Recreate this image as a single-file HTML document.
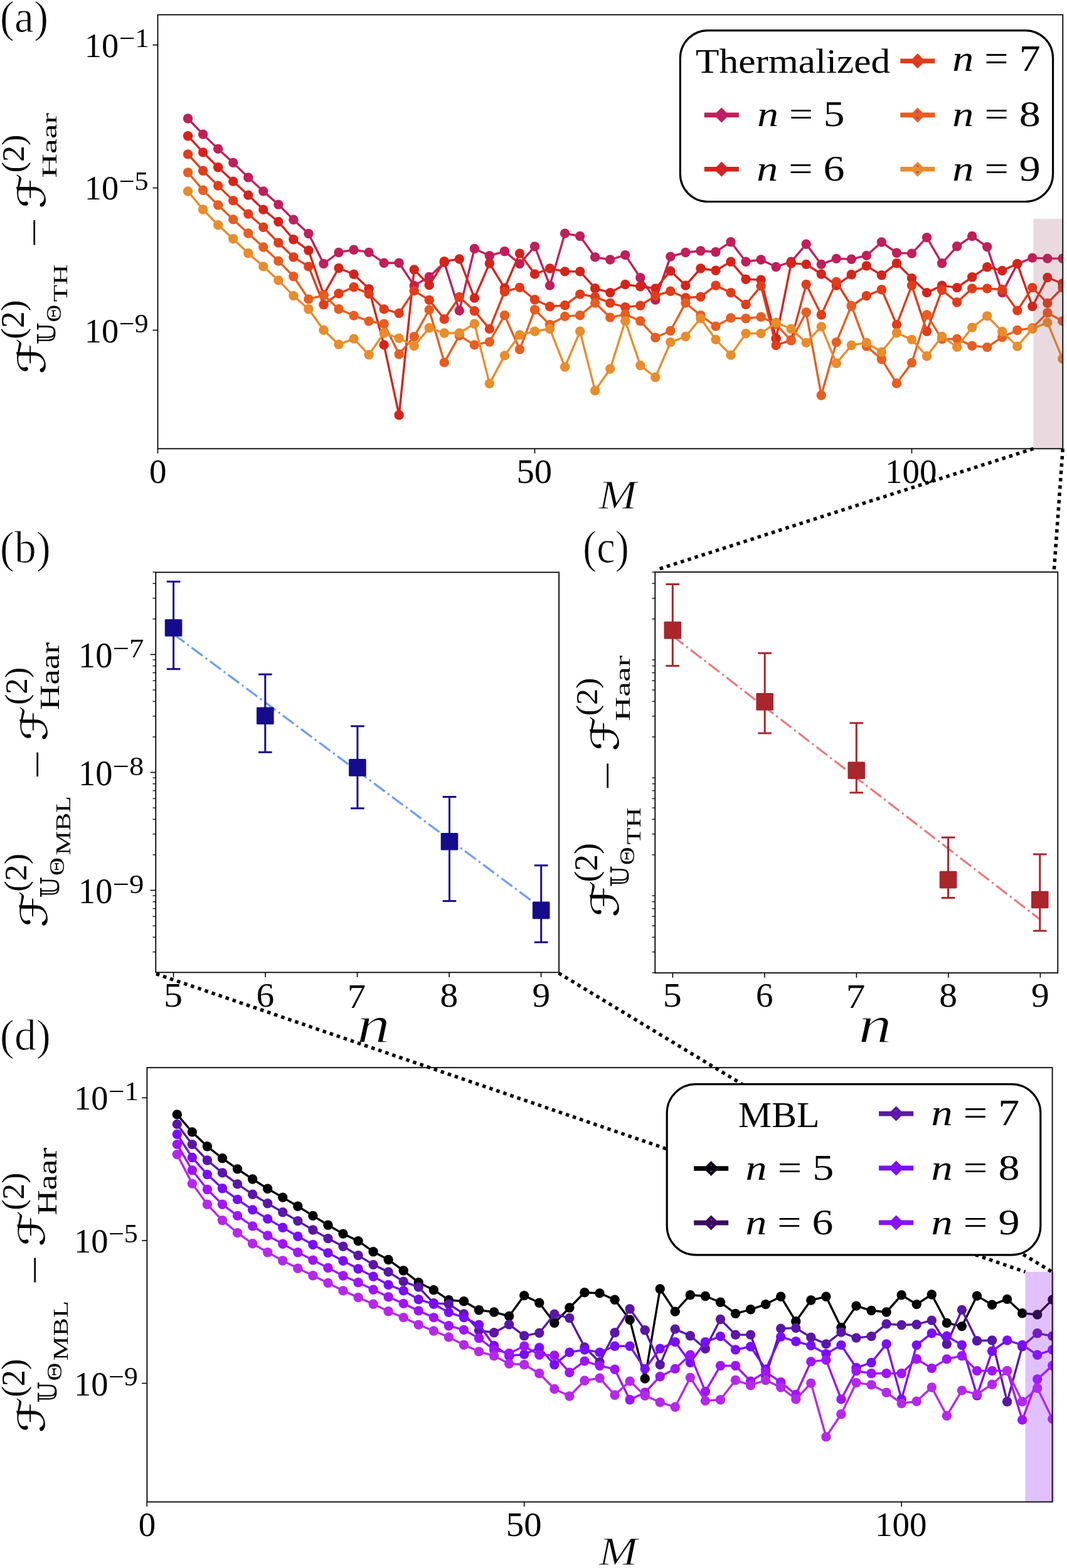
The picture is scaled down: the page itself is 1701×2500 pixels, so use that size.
<!DOCTYPE html>
<html><head><meta charset="utf-8"><title>figure</title>
<style>html,body{margin:0;padding:0;background:#fff;}svg{display:block;}</style>
</head><body>
<svg width="1701" height="2500" viewBox="0 0 1701 2500">
<rect width="1701" height="2500" fill="#fff"/>
<defs>
<clipPath id="ca"><rect x="251.5" y="23.5" width="1442.8" height="691.9"/></clipPath>
<clipPath id="cd"><rect x="234.4" y="1702.2" width="1443.2" height="692.4"/></clipPath>
</defs>
<g clip-path="url(#ca)">
<path d="M299.58 189 L323.62 214.1 L347.66 237.4 L371.7 259.4 L395.74 282.9 L419.78 304.9 L443.82 326.1 L467.86 350.3 L491.9 372.5 L515.94 420.5 L539.98 402.5 L564.02 398.2 L588.06 402.4 L612.1 419.2 L636.14 419.2 L660.18 455.4 L684.22 441.4 L708.26 418.4 L732.3 495.2 L756.34 396.5 L780.38 407.7 L804.42 400.8 L828.46 420.6 L852.5 393 L876.54 455.1 L900.58 372.1 L924.62 376.5 L948.66 409.9 L972.7 414 L996.74 406.6 L1020.78 442.8 L1044.82 478.1 L1068.86 409.1 L1092.9 402.5 L1116.94 400 L1140.98 401.7 L1165.02 385.7 L1189.06 417.3 L1213.1 414 L1237.14 425.5 L1261.18 417.3 L1285.22 389.3 L1309.26 421.4 L1333.3 412.4 L1357.34 413.2 L1381.38 407.4 L1405.42 386 L1429.46 403.3 L1453.5 404.1 L1477.54 378.6 L1501.58 419.8 L1525.62 392.8 L1549.66 376.5 L1573.7 393.6 L1597.74 466.6 L1621.78 420.6 L1645.82 411.1 L1669.86 412.1 L1693.9 412.1" fill="none" stroke="#c11e5a" stroke-width="3.4" stroke-linejoin="round"/>
<g fill="#c11e5a"><circle cx="299.58" cy="189" r="7.7"/><circle cx="323.62" cy="214.1" r="7.7"/><circle cx="347.66" cy="237.4" r="7.7"/><circle cx="371.7" cy="259.4" r="7.7"/><circle cx="395.74" cy="282.9" r="7.7"/><circle cx="419.78" cy="304.9" r="7.7"/><circle cx="443.82" cy="326.1" r="7.7"/><circle cx="467.86" cy="350.3" r="7.7"/><circle cx="491.9" cy="372.5" r="7.7"/><circle cx="515.94" cy="420.5" r="7.7"/><circle cx="539.98" cy="402.5" r="7.7"/><circle cx="564.02" cy="398.2" r="7.7"/><circle cx="588.06" cy="402.4" r="7.7"/><circle cx="612.1" cy="419.2" r="7.7"/><circle cx="636.14" cy="419.2" r="7.7"/><circle cx="660.18" cy="455.4" r="7.7"/><circle cx="684.22" cy="441.4" r="7.7"/><circle cx="708.26" cy="418.4" r="7.7"/><circle cx="732.3" cy="495.2" r="7.7"/><circle cx="756.34" cy="396.5" r="7.7"/><circle cx="780.38" cy="407.7" r="7.7"/><circle cx="804.42" cy="400.8" r="7.7"/><circle cx="828.46" cy="420.6" r="7.7"/><circle cx="852.5" cy="393" r="7.7"/><circle cx="876.54" cy="455.1" r="7.7"/><circle cx="900.58" cy="372.1" r="7.7"/><circle cx="924.62" cy="376.5" r="7.7"/><circle cx="948.66" cy="409.9" r="7.7"/><circle cx="972.7" cy="414" r="7.7"/><circle cx="996.74" cy="406.6" r="7.7"/><circle cx="1020.78" cy="442.8" r="7.7"/><circle cx="1044.82" cy="478.1" r="7.7"/><circle cx="1068.86" cy="409.1" r="7.7"/><circle cx="1092.9" cy="402.5" r="7.7"/><circle cx="1116.94" cy="400" r="7.7"/><circle cx="1140.98" cy="401.7" r="7.7"/><circle cx="1165.02" cy="385.7" r="7.7"/><circle cx="1189.06" cy="417.3" r="7.7"/><circle cx="1213.1" cy="414" r="7.7"/><circle cx="1237.14" cy="425.5" r="7.7"/><circle cx="1261.18" cy="417.3" r="7.7"/><circle cx="1285.22" cy="389.3" r="7.7"/><circle cx="1309.26" cy="421.4" r="7.7"/><circle cx="1333.3" cy="412.4" r="7.7"/><circle cx="1357.34" cy="413.2" r="7.7"/><circle cx="1381.38" cy="407.4" r="7.7"/><circle cx="1405.42" cy="386" r="7.7"/><circle cx="1429.46" cy="403.3" r="7.7"/><circle cx="1453.5" cy="404.1" r="7.7"/><circle cx="1477.54" cy="378.6" r="7.7"/><circle cx="1501.58" cy="419.8" r="7.7"/><circle cx="1525.62" cy="392.8" r="7.7"/><circle cx="1549.66" cy="376.5" r="7.7"/><circle cx="1573.7" cy="393.6" r="7.7"/><circle cx="1597.74" cy="466.6" r="7.7"/><circle cx="1621.78" cy="420.6" r="7.7"/><circle cx="1645.82" cy="411.1" r="7.7"/><circle cx="1669.86" cy="412.1" r="7.7"/><circle cx="1693.9" cy="412.1" r="7.7"/></g>
<path d="M299.58 216.7 L323.62 242.9 L347.66 266.7 L371.7 289.1 L395.74 311.1 L419.78 334.1 L443.82 353.5 L467.86 381.7 L491.9 399.3 L515.94 469.9 L539.98 427.5 L564.02 437.3 L588.06 460.6 L612.1 549.9 L636.14 661.8 L660.18 429.9 L684.22 454.6 L708.26 416.7 L732.3 413 L756.34 475.1 L780.38 420 L804.42 459.2 L828.46 404.1 L852.5 437 L876.54 428 L900.58 432.9 L924.62 432.9 L948.66 459.7 L972.7 466.6 L996.74 453.5 L1020.78 456.8 L1044.82 460 L1068.86 432.1 L1092.9 455.1 L1116.94 428 L1140.98 431.3 L1165.02 417.3 L1189.06 445.2 L1213.1 446.1 L1237.14 539.8 L1261.18 419.8 L1285.22 421.4 L1309.26 437 L1333.3 455.1 L1357.34 437.8 L1381.38 423.9 L1405.42 438.7 L1429.46 419.8 L1453.5 443.6 L1477.54 466.6 L1501.58 455.1 L1525.62 458.6 L1549.66 441.8 L1573.7 425.7 L1597.74 431.5 L1621.78 420.6 L1645.82 488.5 L1669.86 442.5 L1693.9 452" fill="none" stroke="#d6231a" stroke-width="3.4" stroke-linejoin="round"/>
<g fill="#d6231a"><circle cx="299.58" cy="216.7" r="7.7"/><circle cx="323.62" cy="242.9" r="7.7"/><circle cx="347.66" cy="266.7" r="7.7"/><circle cx="371.7" cy="289.1" r="7.7"/><circle cx="395.74" cy="311.1" r="7.7"/><circle cx="419.78" cy="334.1" r="7.7"/><circle cx="443.82" cy="353.5" r="7.7"/><circle cx="467.86" cy="381.7" r="7.7"/><circle cx="491.9" cy="399.3" r="7.7"/><circle cx="515.94" cy="469.9" r="7.7"/><circle cx="539.98" cy="427.5" r="7.7"/><circle cx="564.02" cy="437.3" r="7.7"/><circle cx="588.06" cy="460.6" r="7.7"/><circle cx="612.1" cy="549.9" r="7.7"/><circle cx="636.14" cy="661.8" r="7.7"/><circle cx="660.18" cy="429.9" r="7.7"/><circle cx="684.22" cy="454.6" r="7.7"/><circle cx="708.26" cy="416.7" r="7.7"/><circle cx="732.3" cy="413" r="7.7"/><circle cx="756.34" cy="475.1" r="7.7"/><circle cx="780.38" cy="420" r="7.7"/><circle cx="804.42" cy="459.2" r="7.7"/><circle cx="828.46" cy="404.1" r="7.7"/><circle cx="852.5" cy="437" r="7.7"/><circle cx="876.54" cy="428" r="7.7"/><circle cx="900.58" cy="432.9" r="7.7"/><circle cx="924.62" cy="432.9" r="7.7"/><circle cx="948.66" cy="459.7" r="7.7"/><circle cx="972.7" cy="466.6" r="7.7"/><circle cx="996.74" cy="453.5" r="7.7"/><circle cx="1020.78" cy="456.8" r="7.7"/><circle cx="1044.82" cy="460" r="7.7"/><circle cx="1068.86" cy="432.1" r="7.7"/><circle cx="1092.9" cy="455.1" r="7.7"/><circle cx="1116.94" cy="428" r="7.7"/><circle cx="1140.98" cy="431.3" r="7.7"/><circle cx="1165.02" cy="417.3" r="7.7"/><circle cx="1189.06" cy="445.2" r="7.7"/><circle cx="1213.1" cy="446.1" r="7.7"/><circle cx="1237.14" cy="539.8" r="7.7"/><circle cx="1261.18" cy="419.8" r="7.7"/><circle cx="1285.22" cy="421.4" r="7.7"/><circle cx="1309.26" cy="437" r="7.7"/><circle cx="1333.3" cy="455.1" r="7.7"/><circle cx="1357.34" cy="437.8" r="7.7"/><circle cx="1381.38" cy="423.9" r="7.7"/><circle cx="1405.42" cy="438.7" r="7.7"/><circle cx="1429.46" cy="419.8" r="7.7"/><circle cx="1453.5" cy="443.6" r="7.7"/><circle cx="1477.54" cy="466.6" r="7.7"/><circle cx="1501.58" cy="455.1" r="7.7"/><circle cx="1525.62" cy="458.6" r="7.7"/><circle cx="1549.66" cy="441.8" r="7.7"/><circle cx="1573.7" cy="425.7" r="7.7"/><circle cx="1597.74" cy="431.5" r="7.7"/><circle cx="1621.78" cy="420.6" r="7.7"/><circle cx="1645.82" cy="488.5" r="7.7"/><circle cx="1669.86" cy="442.5" r="7.7"/><circle cx="1693.9" cy="452" r="7.7"/></g>
<path d="M299.58 245.9 L323.62 272.3 L347.66 296.1 L371.7 319.9 L395.74 341.1 L419.78 362.3 L443.82 387 L467.86 409.9 L491.9 424.9 L515.94 485.7 L539.98 468 L564.02 457.8 L588.06 468.5 L612.1 492.9 L636.14 499.5 L660.18 463.6 L684.22 478.4 L708.26 508.8 L732.3 473.5 L756.34 495.7 L780.38 524.4 L804.42 465 L828.46 458.4 L852.5 477.8 L876.54 488.8 L900.58 486.7 L924.62 469.1 L948.66 473.2 L972.7 483.1 L996.74 489.6 L1020.78 487.2 L1044.82 471.6 L1068.86 464.2 L1092.9 474.8 L1116.94 473.2 L1140.98 455.1 L1165.02 466.6 L1189.06 485.5 L1213.1 455.9 L1237.14 550.5 L1261.18 542.3 L1285.22 453.5 L1309.26 502 L1333.3 449.4 L1357.34 488 L1381.38 471.6 L1405.42 461.7 L1429.46 517.6 L1453.5 455.1 L1477.54 528.3 L1501.58 462.5 L1525.62 482 L1549.66 460 L1573.7 460 L1597.74 461.5 L1621.78 495.1 L1645.82 458.6 L1669.86 483.4 L1693.9 458.6" fill="none" stroke="#e23c19" stroke-width="3.4" stroke-linejoin="round"/>
<g fill="#e23c19"><circle cx="299.58" cy="245.9" r="7.7"/><circle cx="323.62" cy="272.3" r="7.7"/><circle cx="347.66" cy="296.1" r="7.7"/><circle cx="371.7" cy="319.9" r="7.7"/><circle cx="395.74" cy="341.1" r="7.7"/><circle cx="419.78" cy="362.3" r="7.7"/><circle cx="443.82" cy="387" r="7.7"/><circle cx="467.86" cy="409.9" r="7.7"/><circle cx="491.9" cy="424.9" r="7.7"/><circle cx="515.94" cy="485.7" r="7.7"/><circle cx="539.98" cy="468" r="7.7"/><circle cx="564.02" cy="457.8" r="7.7"/><circle cx="588.06" cy="468.5" r="7.7"/><circle cx="612.1" cy="492.9" r="7.7"/><circle cx="636.14" cy="499.5" r="7.7"/><circle cx="660.18" cy="463.6" r="7.7"/><circle cx="684.22" cy="478.4" r="7.7"/><circle cx="708.26" cy="508.8" r="7.7"/><circle cx="732.3" cy="473.5" r="7.7"/><circle cx="756.34" cy="495.7" r="7.7"/><circle cx="780.38" cy="524.4" r="7.7"/><circle cx="804.42" cy="465" r="7.7"/><circle cx="828.46" cy="458.4" r="7.7"/><circle cx="852.5" cy="477.8" r="7.7"/><circle cx="876.54" cy="488.8" r="7.7"/><circle cx="900.58" cy="486.7" r="7.7"/><circle cx="924.62" cy="469.1" r="7.7"/><circle cx="948.66" cy="473.2" r="7.7"/><circle cx="972.7" cy="483.1" r="7.7"/><circle cx="996.74" cy="489.6" r="7.7"/><circle cx="1020.78" cy="487.2" r="7.7"/><circle cx="1044.82" cy="471.6" r="7.7"/><circle cx="1068.86" cy="464.2" r="7.7"/><circle cx="1092.9" cy="474.8" r="7.7"/><circle cx="1116.94" cy="473.2" r="7.7"/><circle cx="1140.98" cy="455.1" r="7.7"/><circle cx="1165.02" cy="466.6" r="7.7"/><circle cx="1189.06" cy="485.5" r="7.7"/><circle cx="1213.1" cy="455.9" r="7.7"/><circle cx="1237.14" cy="550.5" r="7.7"/><circle cx="1261.18" cy="542.3" r="7.7"/><circle cx="1285.22" cy="453.5" r="7.7"/><circle cx="1309.26" cy="502" r="7.7"/><circle cx="1333.3" cy="449.4" r="7.7"/><circle cx="1357.34" cy="488" r="7.7"/><circle cx="1381.38" cy="471.6" r="7.7"/><circle cx="1405.42" cy="461.7" r="7.7"/><circle cx="1429.46" cy="517.6" r="7.7"/><circle cx="1453.5" cy="455.1" r="7.7"/><circle cx="1477.54" cy="528.3" r="7.7"/><circle cx="1501.58" cy="462.5" r="7.7"/><circle cx="1525.62" cy="482" r="7.7"/><circle cx="1549.66" cy="460" r="7.7"/><circle cx="1573.7" cy="460" r="7.7"/><circle cx="1597.74" cy="461.5" r="7.7"/><circle cx="1621.78" cy="495.1" r="7.7"/><circle cx="1645.82" cy="458.6" r="7.7"/><circle cx="1669.86" cy="483.4" r="7.7"/><circle cx="1693.9" cy="458.6" r="7.7"/></g>
<path d="M299.58 275 L323.62 303.2 L347.66 327 L371.7 349.9 L395.74 372 L419.78 394 L443.82 416.1 L467.86 440.8 L491.9 476.9 L515.94 470.8 L539.98 492.8 L564.02 503.1 L588.06 512.1 L612.1 516.2 L636.14 564.7 L660.18 536.8 L684.22 494 L708.26 577.9 L732.3 535.1 L756.34 549.9 L780.38 545 L804.42 502.8 L828.46 557.1 L852.5 493.8 L876.54 517.6 L900.58 504.4 L924.62 502.8 L948.66 483.1 L972.7 506.1 L996.74 501.2 L1020.78 511.8 L1044.82 538.2 L1068.86 527.5 L1092.9 483.1 L1116.94 502.8 L1140.98 520.1 L1165.02 506.9 L1189.06 507.7 L1213.1 505.3 L1237.14 516.8 L1261.18 543.1 L1285.22 497.9 L1309.26 630.3 L1333.3 545.6 L1357.34 487.2 L1381.38 552.1 L1405.42 572.7 L1429.46 611.3 L1453.5 578.4 L1477.54 502 L1501.58 540.6 L1525.62 540.4 L1549.66 551.4 L1573.7 553.6 L1597.74 537.5 L1621.78 526.5 L1645.82 522.9 L1669.86 498.8 L1693.9 511.9" fill="none" stroke="#e95d1f" stroke-width="3.4" stroke-linejoin="round"/>
<g fill="#e95d1f"><circle cx="299.58" cy="275" r="7.7"/><circle cx="323.62" cy="303.2" r="7.7"/><circle cx="347.66" cy="327" r="7.7"/><circle cx="371.7" cy="349.9" r="7.7"/><circle cx="395.74" cy="372" r="7.7"/><circle cx="419.78" cy="394" r="7.7"/><circle cx="443.82" cy="416.1" r="7.7"/><circle cx="467.86" cy="440.8" r="7.7"/><circle cx="491.9" cy="476.9" r="7.7"/><circle cx="515.94" cy="470.8" r="7.7"/><circle cx="539.98" cy="492.8" r="7.7"/><circle cx="564.02" cy="503.1" r="7.7"/><circle cx="588.06" cy="512.1" r="7.7"/><circle cx="612.1" cy="516.2" r="7.7"/><circle cx="636.14" cy="564.7" r="7.7"/><circle cx="660.18" cy="536.8" r="7.7"/><circle cx="684.22" cy="494" r="7.7"/><circle cx="708.26" cy="577.9" r="7.7"/><circle cx="732.3" cy="535.1" r="7.7"/><circle cx="756.34" cy="549.9" r="7.7"/><circle cx="780.38" cy="545" r="7.7"/><circle cx="804.42" cy="502.8" r="7.7"/><circle cx="828.46" cy="557.1" r="7.7"/><circle cx="852.5" cy="493.8" r="7.7"/><circle cx="876.54" cy="517.6" r="7.7"/><circle cx="900.58" cy="504.4" r="7.7"/><circle cx="924.62" cy="502.8" r="7.7"/><circle cx="948.66" cy="483.1" r="7.7"/><circle cx="972.7" cy="506.1" r="7.7"/><circle cx="996.74" cy="501.2" r="7.7"/><circle cx="1020.78" cy="511.8" r="7.7"/><circle cx="1044.82" cy="538.2" r="7.7"/><circle cx="1068.86" cy="527.5" r="7.7"/><circle cx="1092.9" cy="483.1" r="7.7"/><circle cx="1116.94" cy="502.8" r="7.7"/><circle cx="1140.98" cy="520.1" r="7.7"/><circle cx="1165.02" cy="506.9" r="7.7"/><circle cx="1189.06" cy="507.7" r="7.7"/><circle cx="1213.1" cy="505.3" r="7.7"/><circle cx="1237.14" cy="516.8" r="7.7"/><circle cx="1261.18" cy="543.1" r="7.7"/><circle cx="1285.22" cy="497.9" r="7.7"/><circle cx="1309.26" cy="630.3" r="7.7"/><circle cx="1333.3" cy="545.6" r="7.7"/><circle cx="1357.34" cy="487.2" r="7.7"/><circle cx="1381.38" cy="552.1" r="7.7"/><circle cx="1405.42" cy="572.7" r="7.7"/><circle cx="1429.46" cy="611.3" r="7.7"/><circle cx="1453.5" cy="578.4" r="7.7"/><circle cx="1477.54" cy="502" r="7.7"/><circle cx="1501.58" cy="540.6" r="7.7"/><circle cx="1525.62" cy="540.4" r="7.7"/><circle cx="1549.66" cy="551.4" r="7.7"/><circle cx="1573.7" cy="553.6" r="7.7"/><circle cx="1597.74" cy="537.5" r="7.7"/><circle cx="1621.78" cy="526.5" r="7.7"/><circle cx="1645.82" cy="522.9" r="7.7"/><circle cx="1669.86" cy="498.8" r="7.7"/><circle cx="1693.9" cy="511.9" r="7.7"/></g>
<path d="M299.58 305 L323.62 334 L347.66 358.7 L371.7 380.8 L395.74 403.7 L419.78 424.9 L443.82 446.9 L467.86 471.6 L491.9 492.8 L515.94 526.3 L539.98 549.3 L564.02 540.1 L588.06 565.6 L612.1 531 L636.14 539.2 L660.18 551.6 L684.22 522.8 L708.26 531 L732.3 531 L756.34 516.2 L780.38 611.6 L804.42 566.9 L828.46 534 L852.5 528.3 L876.54 524.2 L900.58 585 L924.62 528.3 L948.66 622.8 L972.7 588.3 L996.74 511.8 L1020.78 582.6 L1044.82 601.5 L1068.86 545.6 L1092.9 536.5 L1116.94 507.7 L1140.98 541.4 L1165.02 566.1 L1189.06 531.6 L1213.1 531.6 L1237.14 514.3 L1261.18 524.2 L1285.22 546.4 L1309.26 520.9 L1333.3 579.3 L1357.34 550.5 L1381.38 546.4 L1405.42 561.2 L1429.46 530.8 L1453.5 541.4 L1477.54 567.8 L1501.58 536.5 L1525.62 553.2 L1549.66 522.1 L1573.7 503.9 L1597.74 528.7 L1621.78 552.1 L1645.82 524.3 L1669.86 514.1 L1693.9 572" fill="none" stroke="#ea8c29" stroke-width="3.4" stroke-linejoin="round"/>
<g fill="#ea8c29"><circle cx="299.58" cy="305" r="7.7"/><circle cx="323.62" cy="334" r="7.7"/><circle cx="347.66" cy="358.7" r="7.7"/><circle cx="371.7" cy="380.8" r="7.7"/><circle cx="395.74" cy="403.7" r="7.7"/><circle cx="419.78" cy="424.9" r="7.7"/><circle cx="443.82" cy="446.9" r="7.7"/><circle cx="467.86" cy="471.6" r="7.7"/><circle cx="491.9" cy="492.8" r="7.7"/><circle cx="515.94" cy="526.3" r="7.7"/><circle cx="539.98" cy="549.3" r="7.7"/><circle cx="564.02" cy="540.1" r="7.7"/><circle cx="588.06" cy="565.6" r="7.7"/><circle cx="612.1" cy="531" r="7.7"/><circle cx="636.14" cy="539.2" r="7.7"/><circle cx="660.18" cy="551.6" r="7.7"/><circle cx="684.22" cy="522.8" r="7.7"/><circle cx="708.26" cy="531" r="7.7"/><circle cx="732.3" cy="531" r="7.7"/><circle cx="756.34" cy="516.2" r="7.7"/><circle cx="780.38" cy="611.6" r="7.7"/><circle cx="804.42" cy="566.9" r="7.7"/><circle cx="828.46" cy="534" r="7.7"/><circle cx="852.5" cy="528.3" r="7.7"/><circle cx="876.54" cy="524.2" r="7.7"/><circle cx="900.58" cy="585" r="7.7"/><circle cx="924.62" cy="528.3" r="7.7"/><circle cx="948.66" cy="622.8" r="7.7"/><circle cx="972.7" cy="588.3" r="7.7"/><circle cx="996.74" cy="511.8" r="7.7"/><circle cx="1020.78" cy="582.6" r="7.7"/><circle cx="1044.82" cy="601.5" r="7.7"/><circle cx="1068.86" cy="545.6" r="7.7"/><circle cx="1092.9" cy="536.5" r="7.7"/><circle cx="1116.94" cy="507.7" r="7.7"/><circle cx="1140.98" cy="541.4" r="7.7"/><circle cx="1165.02" cy="566.1" r="7.7"/><circle cx="1189.06" cy="531.6" r="7.7"/><circle cx="1213.1" cy="531.6" r="7.7"/><circle cx="1237.14" cy="514.3" r="7.7"/><circle cx="1261.18" cy="524.2" r="7.7"/><circle cx="1285.22" cy="546.4" r="7.7"/><circle cx="1309.26" cy="520.9" r="7.7"/><circle cx="1333.3" cy="579.3" r="7.7"/><circle cx="1357.34" cy="550.5" r="7.7"/><circle cx="1381.38" cy="546.4" r="7.7"/><circle cx="1405.42" cy="561.2" r="7.7"/><circle cx="1429.46" cy="530.8" r="7.7"/><circle cx="1453.5" cy="541.4" r="7.7"/><circle cx="1477.54" cy="567.8" r="7.7"/><circle cx="1501.58" cy="536.5" r="7.7"/><circle cx="1525.62" cy="553.2" r="7.7"/><circle cx="1549.66" cy="522.1" r="7.7"/><circle cx="1573.7" cy="503.9" r="7.7"/><circle cx="1597.74" cy="528.7" r="7.7"/><circle cx="1621.78" cy="552.1" r="7.7"/><circle cx="1645.82" cy="524.3" r="7.7"/><circle cx="1669.86" cy="514.1" r="7.7"/><circle cx="1693.9" cy="572" r="7.7"/></g>
<rect x="1647.4" y="348.8" width="46.9" height="366.6" fill="#8c4658" fill-opacity="0.2"/>
</g>
<rect x="251.5" y="23.5" width="1442.8" height="691.9" fill="none" stroke="#000" stroke-width="1.8"/>
<line x1="243.5" y1="71.7" x2="251.5" y2="71.7" stroke="#000" stroke-width="1.6"/>
<line x1="243.5" y1="299.6" x2="251.5" y2="299.6" stroke="#000" stroke-width="1.6"/>
<line x1="243.5" y1="526.5" x2="251.5" y2="526.5" stroke="#000" stroke-width="1.6"/>
<line x1="251.5" y1="715.4" x2="251.5" y2="722.9" stroke="#000" stroke-width="1.6"/>
<line x1="852.5" y1="715.4" x2="852.5" y2="722.9" stroke="#000" stroke-width="1.6"/>
<line x1="1453.5" y1="715.4" x2="1453.5" y2="722.9" stroke="#000" stroke-width="1.6"/>
<rect x="1084.4" y="48.6" width="594.2" height="272.9" rx="44" ry="44" fill="#fff" stroke="#000" stroke-width="3.2"/>
<line x1="1122.8" y1="183.4" x2="1177.8" y2="183.4" stroke="#c11e5a" stroke-width="7.6"/><path d="M1150.3 171.4L1162.3 183.4L1150.3 195.4L1138.3 183.4Z" fill="#c11e5a"/><path d="M1150.3 176.9L1152.5 179.2L1148.1 179.2Z M1150.3 189.9L1152.7 187L1147.9 187Z" fill="#8a1cff"/>
<line x1="1122.8" y1="269.8" x2="1177.8" y2="269.8" stroke="#d6231a" stroke-width="7.6"/><path d="M1150.3 257.8L1162.3 269.8L1150.3 281.8L1138.3 269.8Z" fill="#d6231a"/><path d="M1150.3 263.3L1152.5 265.6L1148.1 265.6Z M1150.3 276.3L1152.7 273.4L1147.9 273.4Z" fill="#8a1cff"/>
<line x1="1435.3" y1="97.2" x2="1490.3" y2="97.2" stroke="#e23c19" stroke-width="7.6"/><path d="M1462.8 85.2L1474.8 97.2L1462.8 109.2L1450.8 97.2Z" fill="#e23c19"/><path d="M1462.8 90.7L1465 93L1460.6 93Z M1462.8 103.7L1465.2 100.8L1460.4 100.8Z" fill="#8a1cff"/>
<line x1="1435.3" y1="183.4" x2="1490.3" y2="183.4" stroke="#e95d1f" stroke-width="7.6"/><path d="M1462.8 171.4L1474.8 183.4L1462.8 195.4L1450.8 183.4Z" fill="#e95d1f"/><path d="M1462.8 176.9L1465 179.2L1460.6 179.2Z M1462.8 189.9L1465.2 187L1460.4 187Z" fill="#8a1cff"/>
<line x1="1435.3" y1="269.8" x2="1490.3" y2="269.8" stroke="#ea8c29" stroke-width="7.6"/><path d="M1462.8 257.8L1474.8 269.8L1462.8 281.8L1450.8 269.8Z" fill="#ea8c29"/><path d="M1462.8 263.3L1465 265.6L1460.6 265.6Z M1462.8 276.3L1465.2 273.4L1460.4 273.4Z" fill="#8a1cff"/>
<rect x="248.3" y="912.5" width="642.8" height="637.9" fill="none" stroke="#000" stroke-width="1.8"/>
<rect x="1044.3" y="912.1" width="642" height="639.1" fill="none" stroke="#000" stroke-width="1.8"/>
<line x1="243.5" y1="1517.8" x2="248.3" y2="1517.8" stroke="#000" stroke-width="1.3"/>
<line x1="243.5" y1="1494.31" x2="248.3" y2="1494.31" stroke="#000" stroke-width="1.3"/>
<line x1="243.5" y1="1476.09" x2="248.3" y2="1476.09" stroke="#000" stroke-width="1.3"/>
<line x1="243.5" y1="1461.21" x2="248.3" y2="1461.21" stroke="#000" stroke-width="1.3"/>
<line x1="243.5" y1="1448.62" x2="248.3" y2="1448.62" stroke="#000" stroke-width="1.3"/>
<line x1="243.5" y1="1437.72" x2="248.3" y2="1437.72" stroke="#000" stroke-width="1.3"/>
<line x1="243.5" y1="1428.1" x2="248.3" y2="1428.1" stroke="#000" stroke-width="1.3"/>
<line x1="239.6" y1="1419.5" x2="248.3" y2="1419.5" stroke="#000" stroke-width="1.6"/>
<line x1="243.5" y1="1362.91" x2="248.3" y2="1362.91" stroke="#000" stroke-width="1.3"/>
<line x1="243.5" y1="1329.8" x2="248.3" y2="1329.8" stroke="#000" stroke-width="1.3"/>
<line x1="243.5" y1="1306.31" x2="248.3" y2="1306.31" stroke="#000" stroke-width="1.3"/>
<line x1="243.5" y1="1288.09" x2="248.3" y2="1288.09" stroke="#000" stroke-width="1.3"/>
<line x1="243.5" y1="1273.21" x2="248.3" y2="1273.21" stroke="#000" stroke-width="1.3"/>
<line x1="243.5" y1="1260.62" x2="248.3" y2="1260.62" stroke="#000" stroke-width="1.3"/>
<line x1="243.5" y1="1249.72" x2="248.3" y2="1249.72" stroke="#000" stroke-width="1.3"/>
<line x1="243.5" y1="1240.1" x2="248.3" y2="1240.1" stroke="#000" stroke-width="1.3"/>
<line x1="239.6" y1="1231.5" x2="248.3" y2="1231.5" stroke="#000" stroke-width="1.6"/>
<line x1="243.5" y1="1174.91" x2="248.3" y2="1174.91" stroke="#000" stroke-width="1.3"/>
<line x1="243.5" y1="1141.8" x2="248.3" y2="1141.8" stroke="#000" stroke-width="1.3"/>
<line x1="243.5" y1="1118.31" x2="248.3" y2="1118.31" stroke="#000" stroke-width="1.3"/>
<line x1="243.5" y1="1100.09" x2="248.3" y2="1100.09" stroke="#000" stroke-width="1.3"/>
<line x1="243.5" y1="1085.21" x2="248.3" y2="1085.21" stroke="#000" stroke-width="1.3"/>
<line x1="243.5" y1="1072.62" x2="248.3" y2="1072.62" stroke="#000" stroke-width="1.3"/>
<line x1="243.5" y1="1061.72" x2="248.3" y2="1061.72" stroke="#000" stroke-width="1.3"/>
<line x1="243.5" y1="1052.1" x2="248.3" y2="1052.1" stroke="#000" stroke-width="1.3"/>
<line x1="239.6" y1="1043.5" x2="248.3" y2="1043.5" stroke="#000" stroke-width="1.6"/>
<line x1="243.5" y1="986.91" x2="248.3" y2="986.91" stroke="#000" stroke-width="1.3"/>
<line x1="243.5" y1="953.8" x2="248.3" y2="953.8" stroke="#000" stroke-width="1.3"/>
<line x1="243.5" y1="930.31" x2="248.3" y2="930.31" stroke="#000" stroke-width="1.3"/>
<line x1="243.5" y1="912.09" x2="248.3" y2="912.09" stroke="#000" stroke-width="1.3"/>
<line x1="276.6" y1="1550.4" x2="276.6" y2="1558" stroke="#000" stroke-width="1.6"/>
<line x1="423.1" y1="1550.4" x2="423.1" y2="1558" stroke="#000" stroke-width="1.6"/>
<line x1="569.6" y1="1550.4" x2="569.6" y2="1558" stroke="#000" stroke-width="1.6"/>
<line x1="716.1" y1="1550.4" x2="716.1" y2="1558" stroke="#000" stroke-width="1.6"/>
<line x1="862.6" y1="1550.4" x2="862.6" y2="1558" stroke="#000" stroke-width="1.6"/>
<line x1="1039.5" y1="1550.91" x2="1044.3" y2="1550.91" stroke="#000" stroke-width="1.3"/>
<line x1="1039.5" y1="1517.8" x2="1044.3" y2="1517.8" stroke="#000" stroke-width="1.3"/>
<line x1="1039.5" y1="1494.31" x2="1044.3" y2="1494.31" stroke="#000" stroke-width="1.3"/>
<line x1="1039.5" y1="1476.09" x2="1044.3" y2="1476.09" stroke="#000" stroke-width="1.3"/>
<line x1="1039.5" y1="1461.21" x2="1044.3" y2="1461.21" stroke="#000" stroke-width="1.3"/>
<line x1="1039.5" y1="1448.62" x2="1044.3" y2="1448.62" stroke="#000" stroke-width="1.3"/>
<line x1="1039.5" y1="1437.72" x2="1044.3" y2="1437.72" stroke="#000" stroke-width="1.3"/>
<line x1="1039.5" y1="1428.1" x2="1044.3" y2="1428.1" stroke="#000" stroke-width="1.3"/>
<line x1="1039.5" y1="1362.91" x2="1044.3" y2="1362.91" stroke="#000" stroke-width="1.3"/>
<line x1="1039.5" y1="1329.8" x2="1044.3" y2="1329.8" stroke="#000" stroke-width="1.3"/>
<line x1="1039.5" y1="1306.31" x2="1044.3" y2="1306.31" stroke="#000" stroke-width="1.3"/>
<line x1="1039.5" y1="1288.09" x2="1044.3" y2="1288.09" stroke="#000" stroke-width="1.3"/>
<line x1="1039.5" y1="1273.21" x2="1044.3" y2="1273.21" stroke="#000" stroke-width="1.3"/>
<line x1="1039.5" y1="1260.62" x2="1044.3" y2="1260.62" stroke="#000" stroke-width="1.3"/>
<line x1="1039.5" y1="1249.72" x2="1044.3" y2="1249.72" stroke="#000" stroke-width="1.3"/>
<line x1="1039.5" y1="1240.1" x2="1044.3" y2="1240.1" stroke="#000" stroke-width="1.3"/>
<line x1="1039.5" y1="1174.91" x2="1044.3" y2="1174.91" stroke="#000" stroke-width="1.3"/>
<line x1="1039.5" y1="1141.8" x2="1044.3" y2="1141.8" stroke="#000" stroke-width="1.3"/>
<line x1="1039.5" y1="1118.31" x2="1044.3" y2="1118.31" stroke="#000" stroke-width="1.3"/>
<line x1="1039.5" y1="1100.09" x2="1044.3" y2="1100.09" stroke="#000" stroke-width="1.3"/>
<line x1="1039.5" y1="1085.21" x2="1044.3" y2="1085.21" stroke="#000" stroke-width="1.3"/>
<line x1="1039.5" y1="1072.62" x2="1044.3" y2="1072.62" stroke="#000" stroke-width="1.3"/>
<line x1="1039.5" y1="1061.72" x2="1044.3" y2="1061.72" stroke="#000" stroke-width="1.3"/>
<line x1="1039.5" y1="1052.1" x2="1044.3" y2="1052.1" stroke="#000" stroke-width="1.3"/>
<line x1="1039.5" y1="986.91" x2="1044.3" y2="986.91" stroke="#000" stroke-width="1.3"/>
<line x1="1039.5" y1="953.8" x2="1044.3" y2="953.8" stroke="#000" stroke-width="1.3"/>
<line x1="1039.5" y1="930.31" x2="1044.3" y2="930.31" stroke="#000" stroke-width="1.3"/>
<line x1="1039.5" y1="912.09" x2="1044.3" y2="912.09" stroke="#000" stroke-width="1.3"/>
<line x1="1072.4" y1="1551.2" x2="1072.4" y2="1558.8" stroke="#000" stroke-width="1.6"/>
<line x1="1218.9" y1="1551.2" x2="1218.9" y2="1558.8" stroke="#000" stroke-width="1.6"/>
<line x1="1365.4" y1="1551.2" x2="1365.4" y2="1558.8" stroke="#000" stroke-width="1.6"/>
<line x1="1511.9" y1="1551.2" x2="1511.9" y2="1558.8" stroke="#000" stroke-width="1.6"/>
<line x1="1658.4" y1="1551.2" x2="1658.4" y2="1558.8" stroke="#000" stroke-width="1.6"/>
<line x1="276.6" y1="1011" x2="862.7" y2="1447.5" stroke="#6b9ff0" stroke-width="3.2" stroke-dasharray="21.8 5.6 3.2 5.6"/>
<line x1="1072.4" y1="1014" x2="1658" y2="1466" stroke="#e97a7c" stroke-width="3.2" stroke-dasharray="21.8 5.6 3.2 5.6"/>
<g stroke="#160a8e" stroke-width="3"><line x1="276.6" y1="927.3" x2="276.6" y2="1066.7" stroke="#160a8e" stroke-width="3"/><line x1="265.8" y1="927.3" x2="287.4" y2="927.3" stroke="#160a8e" stroke-width="3"/><line x1="265.8" y1="1066.7" x2="287.4" y2="1066.7" stroke="#160a8e" stroke-width="3"/></g>
<rect x="262.8" y="987.2" width="27.6" height="27.6" rx="1.5" fill="#160a8e"/>
<g stroke="#160a8e" stroke-width="3"><line x1="422.8" y1="1075.2" x2="422.8" y2="1199.3" stroke="#160a8e" stroke-width="3"/><line x1="412" y1="1075.2" x2="433.6" y2="1075.2" stroke="#160a8e" stroke-width="3"/><line x1="412" y1="1199.3" x2="433.6" y2="1199.3" stroke="#160a8e" stroke-width="3"/></g>
<rect x="409" y="1127.5" width="27.6" height="27.6" rx="1.5" fill="#160a8e"/>
<g stroke="#160a8e" stroke-width="3"><line x1="569.9" y1="1157.8" x2="569.9" y2="1288.8" stroke="#160a8e" stroke-width="3"/><line x1="559.1" y1="1157.8" x2="580.7" y2="1157.8" stroke="#160a8e" stroke-width="3"/><line x1="559.1" y1="1288.8" x2="580.7" y2="1288.8" stroke="#160a8e" stroke-width="3"/></g>
<rect x="556.1" y="1210.1" width="27.6" height="27.6" rx="1.5" fill="#160a8e"/>
<g stroke="#160a8e" stroke-width="3"><line x1="716.5" y1="1270.5" x2="716.5" y2="1436.6" stroke="#160a8e" stroke-width="3"/><line x1="705.7" y1="1270.5" x2="727.3" y2="1270.5" stroke="#160a8e" stroke-width="3"/><line x1="705.7" y1="1436.6" x2="727.3" y2="1436.6" stroke="#160a8e" stroke-width="3"/></g>
<rect x="702.7" y="1327.9" width="27.6" height="27.6" rx="1.5" fill="#160a8e"/>
<g stroke="#160a8e" stroke-width="3"><line x1="862.7" y1="1379.8" x2="862.7" y2="1502.3" stroke="#160a8e" stroke-width="3"/><line x1="851.9" y1="1379.8" x2="873.5" y2="1379.8" stroke="#160a8e" stroke-width="3"/><line x1="851.9" y1="1502.3" x2="873.5" y2="1502.3" stroke="#160a8e" stroke-width="3"/></g>
<rect x="848.9" y="1437.6" width="27.6" height="27.6" rx="1.5" fill="#160a8e"/>
<g stroke="#a8262c" stroke-width="3"><line x1="1072.3" y1="931.5" x2="1072.3" y2="1061.6" stroke="#a8262c" stroke-width="3"/><line x1="1061.5" y1="931.5" x2="1083.1" y2="931.5" stroke="#a8262c" stroke-width="3"/><line x1="1061.5" y1="1061.6" x2="1083.1" y2="1061.6" stroke="#a8262c" stroke-width="3"/></g>
<rect x="1058.5" y="991.1" width="27.6" height="27.6" rx="1.5" fill="#a8262c"/>
<g stroke="#a8262c" stroke-width="3"><line x1="1219.2" y1="1041.4" x2="1219.2" y2="1169" stroke="#a8262c" stroke-width="3"/><line x1="1208.4" y1="1041.4" x2="1230" y2="1041.4" stroke="#a8262c" stroke-width="3"/><line x1="1208.4" y1="1169" x2="1230" y2="1169" stroke="#a8262c" stroke-width="3"/></g>
<rect x="1205.4" y="1105.1" width="27.6" height="27.6" rx="1.5" fill="#a8262c"/>
<g stroke="#a8262c" stroke-width="3"><line x1="1365.3" y1="1152.8" x2="1365.3" y2="1263.8" stroke="#a8262c" stroke-width="3"/><line x1="1354.5" y1="1152.8" x2="1376.1" y2="1152.8" stroke="#a8262c" stroke-width="3"/><line x1="1354.5" y1="1263.8" x2="1376.1" y2="1263.8" stroke="#a8262c" stroke-width="3"/></g>
<rect x="1351.5" y="1214.5" width="27.6" height="27.6" rx="1.5" fill="#a8262c"/>
<g stroke="#a8262c" stroke-width="3"><line x1="1511.6" y1="1335.2" x2="1511.6" y2="1431.5" stroke="#a8262c" stroke-width="3"/><line x1="1500.8" y1="1335.2" x2="1522.4" y2="1335.2" stroke="#a8262c" stroke-width="3"/><line x1="1500.8" y1="1431.5" x2="1522.4" y2="1431.5" stroke="#a8262c" stroke-width="3"/></g>
<rect x="1497.8" y="1388.8" width="27.6" height="27.6" rx="1.5" fill="#a8262c"/>
<g stroke="#a8262c" stroke-width="3"><line x1="1657.8" y1="1362" x2="1657.8" y2="1484.1" stroke="#a8262c" stroke-width="3"/><line x1="1647" y1="1362" x2="1668.6" y2="1362" stroke="#a8262c" stroke-width="3"/><line x1="1647" y1="1484.1" x2="1668.6" y2="1484.1" stroke="#a8262c" stroke-width="3"/></g>
<rect x="1644" y="1420.7" width="27.6" height="27.6" rx="1.5" fill="#a8262c"/>
<g clip-path="url(#cd)">
<path d="M282.32 1776.9 L306.38 1804.9 L330.44 1827.8 L354.5 1846.8 L378.56 1863.9 L402.62 1880 L426.68 1895.2 L450.74 1909.1 L474.8 1923.3 L498.86 1938.4 L522.92 1953.2 L546.98 1967.1 L571.04 1978.6 L595.1 1995.7 L619.16 2008.5 L643.22 2025.8 L667.28 2044.7 L691.34 2056.7 L715.4 2072.7 L739.46 2074.8 L763.52 2088.8 L787.58 2092 L811.64 2098.5 L835.7 2065.6 L859.76 2077.2 L883.82 2109.2 L907.88 2085 L931.94 2060.7 L956 2061.9 L980.06 2072.2 L1004.12 2104.3 L1028.18 2198 L1052.24 2055 L1076.3 2091.1 L1100.36 2064.8 L1124.42 2066.5 L1148.48 2076.3 L1172.54 2094.4 L1196.6 2087.8 L1220.66 2079.6 L1244.72 2067.3 L1268.78 2106.8 L1292.84 2073 L1316.9 2067.3 L1340.96 2116.6 L1365.02 2082.1 L1389.08 2089.5 L1413.14 2092 L1437.2 2064.8 L1461.26 2079.6 L1485.32 2064 L1509.38 2109.4 L1533.44 2114.6 L1557.5 2066.1 L1581.56 2080.3 L1605.62 2071.4 L1629.68 2093.7 L1653.74 2096 L1677.8 2072.1" fill="none" stroke="#000000" stroke-width="3.4" stroke-linejoin="round"/>
<g fill="#000000"><circle cx="282.32" cy="1776.9" r="7.7"/><circle cx="306.38" cy="1804.9" r="7.7"/><circle cx="330.44" cy="1827.8" r="7.7"/><circle cx="354.5" cy="1846.8" r="7.7"/><circle cx="378.56" cy="1863.9" r="7.7"/><circle cx="402.62" cy="1880" r="7.7"/><circle cx="426.68" cy="1895.2" r="7.7"/><circle cx="450.74" cy="1909.1" r="7.7"/><circle cx="474.8" cy="1923.3" r="7.7"/><circle cx="498.86" cy="1938.4" r="7.7"/><circle cx="522.92" cy="1953.2" r="7.7"/><circle cx="546.98" cy="1967.1" r="7.7"/><circle cx="571.04" cy="1978.6" r="7.7"/><circle cx="595.1" cy="1995.7" r="7.7"/><circle cx="619.16" cy="2008.5" r="7.7"/><circle cx="643.22" cy="2025.8" r="7.7"/><circle cx="667.28" cy="2044.7" r="7.7"/><circle cx="691.34" cy="2056.7" r="7.7"/><circle cx="715.4" cy="2072.7" r="7.7"/><circle cx="739.46" cy="2074.8" r="7.7"/><circle cx="763.52" cy="2088.8" r="7.7"/><circle cx="787.58" cy="2092" r="7.7"/><circle cx="811.64" cy="2098.5" r="7.7"/><circle cx="835.7" cy="2065.6" r="7.7"/><circle cx="859.76" cy="2077.2" r="7.7"/><circle cx="883.82" cy="2109.2" r="7.7"/><circle cx="907.88" cy="2085" r="7.7"/><circle cx="931.94" cy="2060.7" r="7.7"/><circle cx="956" cy="2061.9" r="7.7"/><circle cx="980.06" cy="2072.2" r="7.7"/><circle cx="1004.12" cy="2104.3" r="7.7"/><circle cx="1028.18" cy="2198" r="7.7"/><circle cx="1052.24" cy="2055" r="7.7"/><circle cx="1076.3" cy="2091.1" r="7.7"/><circle cx="1100.36" cy="2064.8" r="7.7"/><circle cx="1124.42" cy="2066.5" r="7.7"/><circle cx="1148.48" cy="2076.3" r="7.7"/><circle cx="1172.54" cy="2094.4" r="7.7"/><circle cx="1196.6" cy="2087.8" r="7.7"/><circle cx="1220.66" cy="2079.6" r="7.7"/><circle cx="1244.72" cy="2067.3" r="7.7"/><circle cx="1268.78" cy="2106.8" r="7.7"/><circle cx="1292.84" cy="2073" r="7.7"/><circle cx="1316.9" cy="2067.3" r="7.7"/><circle cx="1340.96" cy="2116.6" r="7.7"/><circle cx="1365.02" cy="2082.1" r="7.7"/><circle cx="1389.08" cy="2089.5" r="7.7"/><circle cx="1413.14" cy="2092" r="7.7"/><circle cx="1437.2" cy="2064.8" r="7.7"/><circle cx="1461.26" cy="2079.6" r="7.7"/><circle cx="1485.32" cy="2064" r="7.7"/><circle cx="1509.38" cy="2109.4" r="7.7"/><circle cx="1533.44" cy="2114.6" r="7.7"/><circle cx="1557.5" cy="2066.1" r="7.7"/><circle cx="1581.56" cy="2080.3" r="7.7"/><circle cx="1605.62" cy="2071.4" r="7.7"/><circle cx="1629.68" cy="2093.7" r="7.7"/><circle cx="1653.74" cy="2096" r="7.7"/><circle cx="1677.8" cy="2072.1" r="7.7"/></g>
<path d="M282.32 1792.4 L306.38 1824.6 L330.44 1850 L354.5 1869.9 L378.56 1887.9 L402.62 1904.2 L426.68 1918.7 L450.74 1932.7 L474.8 1946.6 L498.86 1961 L522.92 1974.6 L546.98 1987.2 L571.04 2001.6 L595.1 2016.4 L619.16 2027.9 L643.22 2043.1 L667.28 2052.1 L691.34 2077.6 L715.4 2079.2 L739.46 2094.9 L763.52 2121.2 L787.58 2124.8 L811.64 2111.7 L835.7 2129.8 L859.76 2125.2 L883.82 2095.2 L907.88 2101.5 L931.94 2147.9 L956 2171.7 L980.06 2124.8 L1004.12 2087 L1028.18 2120.7 L1052.24 2175.8 L1076.3 2119.1 L1100.36 2129.8 L1124.42 2150.3 L1148.48 2103.5 L1172.54 2128.1 L1196.6 2128.1 L1220.66 2193.9 L1244.72 2118.3 L1268.78 2117.4 L1292.84 2132.2 L1316.9 2142.9 L1340.96 2124 L1365.02 2133.1 L1389.08 2130.6 L1413.14 2110.9 L1437.2 2112.5 L1461.26 2111.7 L1485.32 2105.1 L1509.38 2143 L1533.44 2088.5 L1557.5 2137.8 L1581.56 2137 L1605.62 2234.8 L1629.68 2146.7 L1653.74 2125.8 L1677.8 2130.3" fill="none" stroke="#5a16a8" stroke-width="3.4" stroke-linejoin="round"/>
<g fill="#5a16a8"><circle cx="282.32" cy="1792.4" r="7.7"/><circle cx="306.38" cy="1824.6" r="7.7"/><circle cx="330.44" cy="1850" r="7.7"/><circle cx="354.5" cy="1869.9" r="7.7"/><circle cx="378.56" cy="1887.9" r="7.7"/><circle cx="402.62" cy="1904.2" r="7.7"/><circle cx="426.68" cy="1918.7" r="7.7"/><circle cx="450.74" cy="1932.7" r="7.7"/><circle cx="474.8" cy="1946.6" r="7.7"/><circle cx="498.86" cy="1961" r="7.7"/><circle cx="522.92" cy="1974.6" r="7.7"/><circle cx="546.98" cy="1987.2" r="7.7"/><circle cx="571.04" cy="2001.6" r="7.7"/><circle cx="595.1" cy="2016.4" r="7.7"/><circle cx="619.16" cy="2027.9" r="7.7"/><circle cx="643.22" cy="2043.1" r="7.7"/><circle cx="667.28" cy="2052.1" r="7.7"/><circle cx="691.34" cy="2077.6" r="7.7"/><circle cx="715.4" cy="2079.2" r="7.7"/><circle cx="739.46" cy="2094.9" r="7.7"/><circle cx="763.52" cy="2121.2" r="7.7"/><circle cx="787.58" cy="2124.8" r="7.7"/><circle cx="811.64" cy="2111.7" r="7.7"/><circle cx="835.7" cy="2129.8" r="7.7"/><circle cx="859.76" cy="2125.2" r="7.7"/><circle cx="883.82" cy="2095.2" r="7.7"/><circle cx="907.88" cy="2101.5" r="7.7"/><circle cx="931.94" cy="2147.9" r="7.7"/><circle cx="956" cy="2171.7" r="7.7"/><circle cx="980.06" cy="2124.8" r="7.7"/><circle cx="1004.12" cy="2087" r="7.7"/><circle cx="1028.18" cy="2120.7" r="7.7"/><circle cx="1052.24" cy="2175.8" r="7.7"/><circle cx="1076.3" cy="2119.1" r="7.7"/><circle cx="1100.36" cy="2129.8" r="7.7"/><circle cx="1124.42" cy="2150.3" r="7.7"/><circle cx="1148.48" cy="2103.5" r="7.7"/><circle cx="1172.54" cy="2128.1" r="7.7"/><circle cx="1196.6" cy="2128.1" r="7.7"/><circle cx="1220.66" cy="2193.9" r="7.7"/><circle cx="1244.72" cy="2118.3" r="7.7"/><circle cx="1268.78" cy="2117.4" r="7.7"/><circle cx="1292.84" cy="2132.2" r="7.7"/><circle cx="1316.9" cy="2142.9" r="7.7"/><circle cx="1340.96" cy="2124" r="7.7"/><circle cx="1365.02" cy="2133.1" r="7.7"/><circle cx="1389.08" cy="2130.6" r="7.7"/><circle cx="1413.14" cy="2110.9" r="7.7"/><circle cx="1437.2" cy="2112.5" r="7.7"/><circle cx="1461.26" cy="2111.7" r="7.7"/><circle cx="1485.32" cy="2105.1" r="7.7"/><circle cx="1509.38" cy="2143" r="7.7"/><circle cx="1533.44" cy="2088.5" r="7.7"/><circle cx="1557.5" cy="2137.8" r="7.7"/><circle cx="1581.56" cy="2137" r="7.7"/><circle cx="1605.62" cy="2234.8" r="7.7"/><circle cx="1629.68" cy="2146.7" r="7.7"/><circle cx="1653.74" cy="2125.8" r="7.7"/><circle cx="1677.8" cy="2130.3" r="7.7"/></g>
<path d="M282.32 1808.5 L306.38 1845.5 L330.44 1872.6 L354.5 1894.8 L378.56 1912.4 L402.62 1928.9 L426.68 1943.4 L450.74 1957.3 L474.8 1971.3 L498.86 1984.5 L522.92 1997.6 L546.98 2010.2 L571.04 2023 L595.1 2035.2 L619.16 2048.5 L643.22 2057.9 L667.28 2071.8 L691.34 2079.2 L715.4 2092.4 L739.46 2100.6 L763.52 2112.1 L787.58 2145.4 L811.64 2161.8 L835.7 2159.4 L859.76 2148.7 L883.82 2175.8 L907.88 2156.1 L931.94 2152 L956 2156.1 L980.06 2146.2 L1004.12 2146.2 L1028.18 2182.4 L1052.24 2150.3 L1076.3 2139.6 L1100.36 2172.5 L1124.42 2139.6 L1148.48 2130.6 L1172.54 2152 L1196.6 2147 L1220.66 2183.2 L1244.72 2131.4 L1268.78 2138.8 L1292.84 2145.4 L1316.9 2158.6 L1340.96 2144.6 L1365.02 2180.8 L1389.08 2172.5 L1413.14 2142.9 L1437.2 2230.9 L1461.26 2144.6 L1485.32 2125.7 L1509.38 2130.3 L1533.44 2144.5 L1557.5 2225.1 L1581.56 2154.2 L1605.62 2137 L1629.68 2144.5 L1653.74 2160.2 L1677.8 2152" fill="none" stroke="#7a0cff" stroke-width="3.4" stroke-linejoin="round"/>
<g fill="#7a0cff"><circle cx="282.32" cy="1808.5" r="7.7"/><circle cx="306.38" cy="1845.5" r="7.7"/><circle cx="330.44" cy="1872.6" r="7.7"/><circle cx="354.5" cy="1894.8" r="7.7"/><circle cx="378.56" cy="1912.4" r="7.7"/><circle cx="402.62" cy="1928.9" r="7.7"/><circle cx="426.68" cy="1943.4" r="7.7"/><circle cx="450.74" cy="1957.3" r="7.7"/><circle cx="474.8" cy="1971.3" r="7.7"/><circle cx="498.86" cy="1984.5" r="7.7"/><circle cx="522.92" cy="1997.6" r="7.7"/><circle cx="546.98" cy="2010.2" r="7.7"/><circle cx="571.04" cy="2023" r="7.7"/><circle cx="595.1" cy="2035.2" r="7.7"/><circle cx="619.16" cy="2048.5" r="7.7"/><circle cx="643.22" cy="2057.9" r="7.7"/><circle cx="667.28" cy="2071.8" r="7.7"/><circle cx="691.34" cy="2079.2" r="7.7"/><circle cx="715.4" cy="2092.4" r="7.7"/><circle cx="739.46" cy="2100.6" r="7.7"/><circle cx="763.52" cy="2112.1" r="7.7"/><circle cx="787.58" cy="2145.4" r="7.7"/><circle cx="811.64" cy="2161.8" r="7.7"/><circle cx="835.7" cy="2159.4" r="7.7"/><circle cx="859.76" cy="2148.7" r="7.7"/><circle cx="883.82" cy="2175.8" r="7.7"/><circle cx="907.88" cy="2156.1" r="7.7"/><circle cx="931.94" cy="2152" r="7.7"/><circle cx="956" cy="2156.1" r="7.7"/><circle cx="980.06" cy="2146.2" r="7.7"/><circle cx="1004.12" cy="2146.2" r="7.7"/><circle cx="1028.18" cy="2182.4" r="7.7"/><circle cx="1052.24" cy="2150.3" r="7.7"/><circle cx="1076.3" cy="2139.6" r="7.7"/><circle cx="1100.36" cy="2172.5" r="7.7"/><circle cx="1124.42" cy="2139.6" r="7.7"/><circle cx="1148.48" cy="2130.6" r="7.7"/><circle cx="1172.54" cy="2152" r="7.7"/><circle cx="1196.6" cy="2147" r="7.7"/><circle cx="1220.66" cy="2183.2" r="7.7"/><circle cx="1244.72" cy="2131.4" r="7.7"/><circle cx="1268.78" cy="2138.8" r="7.7"/><circle cx="1292.84" cy="2145.4" r="7.7"/><circle cx="1316.9" cy="2158.6" r="7.7"/><circle cx="1340.96" cy="2144.6" r="7.7"/><circle cx="1365.02" cy="2180.8" r="7.7"/><circle cx="1389.08" cy="2172.5" r="7.7"/><circle cx="1413.14" cy="2142.9" r="7.7"/><circle cx="1437.2" cy="2230.9" r="7.7"/><circle cx="1461.26" cy="2144.6" r="7.7"/><circle cx="1485.32" cy="2125.7" r="7.7"/><circle cx="1509.38" cy="2130.3" r="7.7"/><circle cx="1533.44" cy="2144.5" r="7.7"/><circle cx="1557.5" cy="2225.1" r="7.7"/><circle cx="1581.56" cy="2154.2" r="7.7"/><circle cx="1605.62" cy="2137" r="7.7"/><circle cx="1629.68" cy="2144.5" r="7.7"/><circle cx="1653.74" cy="2160.2" r="7.7"/><circle cx="1677.8" cy="2152" r="7.7"/></g>
<path d="M282.32 1824.6 L306.38 1865.7 L330.44 1896.5 L354.5 1920.3 L378.56 1938.4 L402.62 1954.9 L426.68 1970 L450.74 1983.2 L474.8 1996.8 L498.86 2009.1 L522.92 2021.5 L546.98 2034 L571.04 2044.7 L595.1 2056.2 L619.16 2067.7 L643.22 2078.4 L667.28 2089.9 L691.34 2100.6 L715.4 2113.8 L739.46 2120.4 L763.52 2133.5 L787.58 2152 L811.64 2157.7 L835.7 2146.2 L859.76 2160.2 L883.82 2161 L907.88 2188.2 L931.94 2170.1 L956 2177.5 L980.06 2183.2 L1004.12 2231.7 L1028.18 2220.2 L1052.24 2194.7 L1076.3 2182.4 L1100.36 2160.2 L1124.42 2218.6 L1148.48 2177.5 L1172.54 2177.5 L1196.6 2202.1 L1220.66 2187.3 L1244.72 2203.8 L1268.78 2223.5 L1292.84 2170.9 L1316.9 2168.4 L1340.96 2230.9 L1365.02 2185.7 L1389.08 2189.8 L1413.14 2189.8 L1437.2 2189.8 L1461.26 2166.8 L1485.32 2181.6 L1509.38 2166.9 L1533.44 2161.7 L1557.5 2185.6 L1581.56 2185.6 L1605.62 2185.6 L1629.68 2263.9 L1653.74 2199 L1677.8 2177.3" fill="none" stroke="#a013fd" stroke-width="3.4" stroke-linejoin="round"/>
<g fill="#a013fd"><circle cx="282.32" cy="1824.6" r="7.7"/><circle cx="306.38" cy="1865.7" r="7.7"/><circle cx="330.44" cy="1896.5" r="7.7"/><circle cx="354.5" cy="1920.3" r="7.7"/><circle cx="378.56" cy="1938.4" r="7.7"/><circle cx="402.62" cy="1954.9" r="7.7"/><circle cx="426.68" cy="1970" r="7.7"/><circle cx="450.74" cy="1983.2" r="7.7"/><circle cx="474.8" cy="1996.8" r="7.7"/><circle cx="498.86" cy="2009.1" r="7.7"/><circle cx="522.92" cy="2021.5" r="7.7"/><circle cx="546.98" cy="2034" r="7.7"/><circle cx="571.04" cy="2044.7" r="7.7"/><circle cx="595.1" cy="2056.2" r="7.7"/><circle cx="619.16" cy="2067.7" r="7.7"/><circle cx="643.22" cy="2078.4" r="7.7"/><circle cx="667.28" cy="2089.9" r="7.7"/><circle cx="691.34" cy="2100.6" r="7.7"/><circle cx="715.4" cy="2113.8" r="7.7"/><circle cx="739.46" cy="2120.4" r="7.7"/><circle cx="763.52" cy="2133.5" r="7.7"/><circle cx="787.58" cy="2152" r="7.7"/><circle cx="811.64" cy="2157.7" r="7.7"/><circle cx="835.7" cy="2146.2" r="7.7"/><circle cx="859.76" cy="2160.2" r="7.7"/><circle cx="883.82" cy="2161" r="7.7"/><circle cx="907.88" cy="2188.2" r="7.7"/><circle cx="931.94" cy="2170.1" r="7.7"/><circle cx="956" cy="2177.5" r="7.7"/><circle cx="980.06" cy="2183.2" r="7.7"/><circle cx="1004.12" cy="2231.7" r="7.7"/><circle cx="1028.18" cy="2220.2" r="7.7"/><circle cx="1052.24" cy="2194.7" r="7.7"/><circle cx="1076.3" cy="2182.4" r="7.7"/><circle cx="1100.36" cy="2160.2" r="7.7"/><circle cx="1124.42" cy="2218.6" r="7.7"/><circle cx="1148.48" cy="2177.5" r="7.7"/><circle cx="1172.54" cy="2177.5" r="7.7"/><circle cx="1196.6" cy="2202.1" r="7.7"/><circle cx="1220.66" cy="2187.3" r="7.7"/><circle cx="1244.72" cy="2203.8" r="7.7"/><circle cx="1268.78" cy="2223.5" r="7.7"/><circle cx="1292.84" cy="2170.9" r="7.7"/><circle cx="1316.9" cy="2168.4" r="7.7"/><circle cx="1340.96" cy="2230.9" r="7.7"/><circle cx="1365.02" cy="2185.7" r="7.7"/><circle cx="1389.08" cy="2189.8" r="7.7"/><circle cx="1413.14" cy="2189.8" r="7.7"/><circle cx="1437.2" cy="2189.8" r="7.7"/><circle cx="1461.26" cy="2166.8" r="7.7"/><circle cx="1485.32" cy="2181.6" r="7.7"/><circle cx="1509.38" cy="2166.9" r="7.7"/><circle cx="1533.44" cy="2161.7" r="7.7"/><circle cx="1557.5" cy="2185.6" r="7.7"/><circle cx="1581.56" cy="2185.6" r="7.7"/><circle cx="1605.62" cy="2185.6" r="7.7"/><circle cx="1629.68" cy="2263.9" r="7.7"/><circle cx="1653.74" cy="2199" r="7.7"/><circle cx="1677.8" cy="2177.3" r="7.7"/></g>
<path d="M282.32 1840.6 L306.38 1887.1 L330.44 1920.3 L354.5 1945.8 L378.56 1965.6 L402.62 1982.8 L426.68 1996.8 L450.74 2010 L474.8 2022.3 L498.86 2033.8 L522.92 2045.5 L546.98 2057.9 L571.04 2068.6 L595.1 2079.2 L619.16 2090.8 L643.22 2100.6 L667.28 2112.1 L691.34 2122 L715.4 2131.9 L739.46 2144.2 L763.52 2154.9 L787.58 2161.8 L811.64 2174.2 L835.7 2175.8 L859.76 2189.8 L883.82 2214.5 L907.88 2226 L931.94 2201.3 L956 2197.2 L980.06 2224.3 L1004.12 2202.1 L1028.18 2225.2 L1052.24 2235.8 L1076.3 2243.2 L1100.36 2196.4 L1124.42 2233.4 L1148.48 2231.7 L1172.54 2200.5 L1196.6 2208.7 L1220.66 2200.5 L1244.72 2212 L1268.78 2230.9 L1292.84 2205.4 L1316.9 2290.9 L1340.96 2254.8 L1365.02 2204.6 L1389.08 2207.9 L1413.14 2220.2 L1437.2 2237.5 L1461.26 2234.2 L1485.32 2212 L1509.38 2257.2 L1533.44 2216.9 L1557.5 2222.9 L1581.56 2207.2 L1605.62 2185.6 L1629.68 2234.8 L1653.74 2213.2 L1677.8 2262.4" fill="none" stroke="#b627ee" stroke-width="3.4" stroke-linejoin="round"/>
<g fill="#b627ee"><circle cx="282.32" cy="1840.6" r="7.7"/><circle cx="306.38" cy="1887.1" r="7.7"/><circle cx="330.44" cy="1920.3" r="7.7"/><circle cx="354.5" cy="1945.8" r="7.7"/><circle cx="378.56" cy="1965.6" r="7.7"/><circle cx="402.62" cy="1982.8" r="7.7"/><circle cx="426.68" cy="1996.8" r="7.7"/><circle cx="450.74" cy="2010" r="7.7"/><circle cx="474.8" cy="2022.3" r="7.7"/><circle cx="498.86" cy="2033.8" r="7.7"/><circle cx="522.92" cy="2045.5" r="7.7"/><circle cx="546.98" cy="2057.9" r="7.7"/><circle cx="571.04" cy="2068.6" r="7.7"/><circle cx="595.1" cy="2079.2" r="7.7"/><circle cx="619.16" cy="2090.8" r="7.7"/><circle cx="643.22" cy="2100.6" r="7.7"/><circle cx="667.28" cy="2112.1" r="7.7"/><circle cx="691.34" cy="2122" r="7.7"/><circle cx="715.4" cy="2131.9" r="7.7"/><circle cx="739.46" cy="2144.2" r="7.7"/><circle cx="763.52" cy="2154.9" r="7.7"/><circle cx="787.58" cy="2161.8" r="7.7"/><circle cx="811.64" cy="2174.2" r="7.7"/><circle cx="835.7" cy="2175.8" r="7.7"/><circle cx="859.76" cy="2189.8" r="7.7"/><circle cx="883.82" cy="2214.5" r="7.7"/><circle cx="907.88" cy="2226" r="7.7"/><circle cx="931.94" cy="2201.3" r="7.7"/><circle cx="956" cy="2197.2" r="7.7"/><circle cx="980.06" cy="2224.3" r="7.7"/><circle cx="1004.12" cy="2202.1" r="7.7"/><circle cx="1028.18" cy="2225.2" r="7.7"/><circle cx="1052.24" cy="2235.8" r="7.7"/><circle cx="1076.3" cy="2243.2" r="7.7"/><circle cx="1100.36" cy="2196.4" r="7.7"/><circle cx="1124.42" cy="2233.4" r="7.7"/><circle cx="1148.48" cy="2231.7" r="7.7"/><circle cx="1172.54" cy="2200.5" r="7.7"/><circle cx="1196.6" cy="2208.7" r="7.7"/><circle cx="1220.66" cy="2200.5" r="7.7"/><circle cx="1244.72" cy="2212" r="7.7"/><circle cx="1268.78" cy="2230.9" r="7.7"/><circle cx="1292.84" cy="2205.4" r="7.7"/><circle cx="1316.9" cy="2290.9" r="7.7"/><circle cx="1340.96" cy="2254.8" r="7.7"/><circle cx="1365.02" cy="2204.6" r="7.7"/><circle cx="1389.08" cy="2207.9" r="7.7"/><circle cx="1413.14" cy="2220.2" r="7.7"/><circle cx="1437.2" cy="2237.5" r="7.7"/><circle cx="1461.26" cy="2234.2" r="7.7"/><circle cx="1485.32" cy="2212" r="7.7"/><circle cx="1509.38" cy="2257.2" r="7.7"/><circle cx="1533.44" cy="2216.9" r="7.7"/><circle cx="1557.5" cy="2222.9" r="7.7"/><circle cx="1581.56" cy="2207.2" r="7.7"/><circle cx="1605.62" cy="2185.6" r="7.7"/><circle cx="1629.68" cy="2234.8" r="7.7"/><circle cx="1653.74" cy="2213.2" r="7.7"/><circle cx="1677.8" cy="2262.4" r="7.7"/></g>
</g>
<rect x="1634.4" y="2027.8" width="46.3" height="366.8" fill="#9b30ff" fill-opacity="0.3"/>
<rect x="234.4" y="1702.2" width="1443.2" height="692.4" fill="none" stroke="#000" stroke-width="1.8"/>
<line x1="226.2" y1="1750.3" x2="234.4" y2="1750.3" stroke="#000" stroke-width="1.6"/>
<line x1="226.2" y1="1977.9" x2="234.4" y2="1977.9" stroke="#000" stroke-width="1.6"/>
<line x1="226.2" y1="2205.5" x2="234.4" y2="2205.5" stroke="#000" stroke-width="1.6"/>
<line x1="234.2" y1="2394.6" x2="234.2" y2="2402.1" stroke="#000" stroke-width="1.6"/>
<line x1="835.7" y1="2394.6" x2="835.7" y2="2402.1" stroke="#000" stroke-width="1.6"/>
<line x1="1437.2" y1="2394.6" x2="1437.2" y2="2402.1" stroke="#000" stroke-width="1.6"/>
<text id="lab_a" style="font-family:'Liberation Serif', 'DejaVu Serif', serif;" font-size="72.27" fill="#000" textLength="77.47" lengthAdjust="spacingAndGlyphs" stroke="#fff" stroke-width="1" x="-0.24" y="51.06">(a)</text>
<text id="lab_b" style="font-family:'Liberation Serif', 'DejaVu Serif', serif;" font-size="70.86" fill="#000" textLength="81.07" lengthAdjust="spacingAndGlyphs" stroke="#fff" stroke-width="1" x="-0.2" y="897.42">(b)</text>
<text id="lab_c" style="font-family:'Liberation Serif', 'DejaVu Serif', serif;" font-size="73.6" fill="#000" textLength="73.84" lengthAdjust="spacingAndGlyphs" stroke="#fff" stroke-width="1" x="929.08" y="896.96">(c)</text>
<text id="lab_d" style="font-family:'Liberation Serif', 'DejaVu Serif', serif;" font-size="70.72" fill="#000" textLength="81.29" lengthAdjust="spacingAndGlyphs" stroke="#fff" stroke-width="1" x="-0.25" y="1673.83">(d)</text>
<text id="yt_a1_b" style="font-family:'Liberation Serif', 'DejaVu Serif', serif;" font-size="55" fill="#000" textLength="54.46" lengthAdjust="spacingAndGlyphs" x="134.83" y="90.8">10</text>
<text id="yt_a1_s" style="font-family:'Liberation Serif', 'DejaVu Serif', serif;" font-size="41.3" fill="#000" textLength="48.24" lengthAdjust="spacingAndGlyphs" x="189.68" y="74.79">−1</text>
<text id="yt_a5_b" style="font-family:'Liberation Serif', 'DejaVu Serif', serif;" font-size="55" fill="#000" textLength="54.46" lengthAdjust="spacingAndGlyphs" x="134.83" y="318.2">10</text>
<text id="yt_a5_s" style="font-family:'Liberation Serif', 'DejaVu Serif', serif;" font-size="41.3" fill="#000" textLength="46.97" lengthAdjust="spacingAndGlyphs" x="189.74" y="303.2">−5</text>
<text id="yt_a9_b" style="font-family:'Liberation Serif', 'DejaVu Serif', serif;" font-size="55" fill="#000" textLength="54.46" lengthAdjust="spacingAndGlyphs" x="134.83" y="545.6">10</text>
<text id="yt_a9_s" style="font-family:'Liberation Serif', 'DejaVu Serif', serif;" font-size="41.3" fill="#000" textLength="46.97" lengthAdjust="spacingAndGlyphs" x="189.74" y="529.61">−9</text>
<text id="yt_b7_b" style="font-family:'Liberation Serif', 'DejaVu Serif', serif;" font-size="56.56" fill="#000" textLength="54.44" lengthAdjust="spacingAndGlyphs" x="125.04" y="1063.54">10</text>
<text id="yt_b7_s" style="font-family:'Liberation Serif', 'DejaVu Serif', serif;" font-size="42.77" fill="#000" textLength="49.71" lengthAdjust="spacingAndGlyphs" x="179.73" y="1048.22">−7</text>
<text id="yt_b8_b" style="font-family:'Liberation Serif', 'DejaVu Serif', serif;" font-size="56.56" fill="#000" textLength="54.44" lengthAdjust="spacingAndGlyphs" x="125.04" y="1251.54">10</text>
<text id="yt_b8_s" style="font-family:'Liberation Serif', 'DejaVu Serif', serif;" font-size="42.77" fill="#000" textLength="49.71" lengthAdjust="spacingAndGlyphs" x="179.73" y="1236.22">−8</text>
<text id="yt_b9_b" style="font-family:'Liberation Serif', 'DejaVu Serif', serif;" font-size="56.56" fill="#000" textLength="54.44" lengthAdjust="spacingAndGlyphs" x="125.04" y="1439.54">10</text>
<text id="yt_b9_s" style="font-family:'Liberation Serif', 'DejaVu Serif', serif;" font-size="42.77" fill="#000" textLength="49.71" lengthAdjust="spacingAndGlyphs" x="179.73" y="1424.22">−9</text>
<text id="yt_d1_b" style="font-family:'Liberation Serif', 'DejaVu Serif', serif;" font-size="55" fill="#000" textLength="54.44" lengthAdjust="spacingAndGlyphs" x="118.05" y="1769.4">10</text>
<text id="yt_d1_s" style="font-family:'Liberation Serif', 'DejaVu Serif', serif;" font-size="41.3" fill="#000" textLength="48.24" lengthAdjust="spacingAndGlyphs" x="172.9" y="1754.39">−1</text>
<text id="yt_d5_b" style="font-family:'Liberation Serif', 'DejaVu Serif', serif;" font-size="55" fill="#000" textLength="54.44" lengthAdjust="spacingAndGlyphs" x="118.05" y="1997">10</text>
<text id="yt_d5_s" style="font-family:'Liberation Serif', 'DejaVu Serif', serif;" font-size="41.3" fill="#000" textLength="47" lengthAdjust="spacingAndGlyphs" x="172.95" y="1980.99">−5</text>
<text id="yt_d9_b" style="font-family:'Liberation Serif', 'DejaVu Serif', serif;" font-size="55" fill="#000" textLength="54.44" lengthAdjust="spacingAndGlyphs" x="118.05" y="2224.6">10</text>
<text id="yt_d9_s" style="font-family:'Liberation Serif', 'DejaVu Serif', serif;" font-size="41.3" fill="#000" textLength="47" lengthAdjust="spacingAndGlyphs" x="172.95" y="2208.61">−9</text>
<text id="xa_0" style="font-family:'Liberation Serif', 'DejaVu Serif', serif;" font-size="54.28" fill="#000" textLength="27.5" lengthAdjust="spacingAndGlyphs" x="238" y="769.82">0</text>
<text id="xa_50" style="font-family:'Liberation Serif', 'DejaVu Serif', serif;" font-size="54.28" fill="#000" textLength="56.66" lengthAdjust="spacingAndGlyphs" x="823.4" y="769.82">50</text>
<text id="xa_100" style="font-family:'Liberation Serif', 'DejaVu Serif', serif;" font-size="54.28" fill="#000" textLength="82.5" lengthAdjust="spacingAndGlyphs" x="1411" y="769.82">100</text>
<text id="xb_5" style="font-family:'Liberation Serif', 'DejaVu Serif', serif;" font-size="54.28" fill="#000" textLength="30.03" lengthAdjust="spacingAndGlyphs" x="261.1" y="1605.01">5</text>
<text id="xc_5" style="font-family:'Liberation Serif', 'DejaVu Serif', serif;" font-size="54.28" fill="#000" textLength="30.03" lengthAdjust="spacingAndGlyphs" x="1056.88" y="1605.01">5</text>
<text id="xb_6" style="font-family:'Liberation Serif', 'DejaVu Serif', serif;" font-size="54.28" fill="#000" textLength="28.7" lengthAdjust="spacingAndGlyphs" x="408.48" y="1605.01">6</text>
<text id="xc_6" style="font-family:'Liberation Serif', 'DejaVu Serif', serif;" font-size="54.28" fill="#000" textLength="27.55" lengthAdjust="spacingAndGlyphs" x="1205.07" y="1605.01">6</text>
<text id="xb_7" style="font-family:'Liberation Serif', 'DejaVu Serif', serif;" font-size="55.83" fill="#000" textLength="29.42" lengthAdjust="spacingAndGlyphs" x="553.82" y="1606.98">7</text>
<text id="xc_7" style="font-family:'Liberation Serif', 'DejaVu Serif', serif;" font-size="55.83" fill="#000" textLength="30.65" lengthAdjust="spacingAndGlyphs" x="1348.85" y="1606.98">7</text>
<text id="xb_8" style="font-family:'Liberation Serif', 'DejaVu Serif', serif;" font-size="54.28" fill="#000" textLength="28.75" lengthAdjust="spacingAndGlyphs" x="701.48" y="1605.01">8</text>
<text id="xc_8" style="font-family:'Liberation Serif', 'DejaVu Serif', serif;" font-size="54.28" fill="#000" textLength="28.75" lengthAdjust="spacingAndGlyphs" x="1497.39" y="1605.01">8</text>
<text id="xb_9" style="font-family:'Liberation Serif', 'DejaVu Serif', serif;" font-size="54.28" fill="#000" textLength="28.7" lengthAdjust="spacingAndGlyphs" x="848.51" y="1605.01">9</text>
<text id="xc_9" style="font-family:'Liberation Serif', 'DejaVu Serif', serif;" font-size="54.28" fill="#000" textLength="28.7" lengthAdjust="spacingAndGlyphs" x="1644.11" y="1605.01">9</text>
<text id="xd_0" style="font-family:'Liberation Serif', 'DejaVu Serif', serif;" font-size="54.28" fill="#000" textLength="27.55" lengthAdjust="spacingAndGlyphs" x="220.79" y="2448.82">0</text>
<text id="xd_50" style="font-family:'Liberation Serif', 'DejaVu Serif', serif;" font-size="54.28" fill="#000" textLength="56.68" lengthAdjust="spacingAndGlyphs" x="806.8" y="2448.82">50</text>
<text id="xd_100" style="font-family:'Liberation Serif', 'DejaVu Serif', serif;" font-size="54.28" fill="#000" textLength="82.5" lengthAdjust="spacingAndGlyphs" x="1395" y="2448.82">100</text>
<text id="xl_a" style="font-family:'Liberation Serif', 'DejaVu Serif', serif;font-style:italic;" font-size="65.35" fill="#000" textLength="60.9" lengthAdjust="spacingAndGlyphs" stroke="#fff" stroke-width="1" x="954.17" y="811.2">M</text>
<text id="xl_d" style="font-family:'Liberation Serif', 'DejaVu Serif', serif;font-style:italic;" font-size="63.87" fill="#000" textLength="61.73" lengthAdjust="spacingAndGlyphs" stroke="#fff" stroke-width="1" x="954.84" y="2495.19">M</text>
<text id="xl_b" style="font-family:'Liberation Serif', 'DejaVu Serif', serif;font-style:italic;" font-size="84.22" fill="#000" textLength="53.03" lengthAdjust="spacingAndGlyphs" stroke="#fff" stroke-width="1.3" x="569.06" y="1661.82">n</text>
<text id="xl_c" style="font-family:'Liberation Serif', 'DejaVu Serif', serif;font-style:italic;" font-size="84.22" fill="#000" textLength="53.27" lengthAdjust="spacingAndGlyphs" stroke="#fff" stroke-width="1.3" x="1368.56" y="1662.23">n</text>
<text id="lg_a_title" style="font-family:'Liberation Serif', 'DejaVu Serif', serif;" font-size="54.23" fill="#000" textLength="310.17" lengthAdjust="spacingAndGlyphs" x="1109.1" y="115.84">Thermalized</text>
<text id="lg_a_5" style="font-family:'Liberation Serif', 'DejaVu Serif', serif;" font-size="57.75" fill="#000" textLength="139.33" lengthAdjust="spacingAndGlyphs" x="1207.25" y="200.79"><tspan font-style="italic">n</tspan> = 5</text>
<text id="lg_a_6" style="font-family:'Liberation Serif', 'DejaVu Serif', serif;" font-size="57.75" fill="#000" textLength="140.37" lengthAdjust="spacingAndGlyphs" x="1206.23" y="288.39"><tspan font-style="italic">n</tspan> = 6</text>
<text id="lg_a_7" style="font-family:'Liberation Serif', 'DejaVu Serif', serif;" font-size="59.27" fill="#000" textLength="140.37" lengthAdjust="spacingAndGlyphs" x="1518.37" y="113.18"><tspan font-style="italic">n</tspan> = 7</text>
<text id="lg_a_8" style="font-family:'Liberation Serif', 'DejaVu Serif', serif;" font-size="57.75" fill="#000" textLength="140.57" lengthAdjust="spacingAndGlyphs" x="1518.37" y="200.79"><tspan font-style="italic">n</tspan> = 8</text>
<text id="lg_a_9" style="font-family:'Liberation Serif', 'DejaVu Serif', serif;" font-size="57.75" fill="#000" textLength="140.57" lengthAdjust="spacingAndGlyphs" x="1518.37" y="288.39"><tspan font-style="italic">n</tspan> = 9</text>
<text id="ya_F1" style="font-family:'DejaVu Sans', 'DejaVu Serif', serif;" font-size="61.32" fill="#000" textLength="57.05" lengthAdjust="spacingAndGlyphs" transform="translate(71.77 596.42) rotate(-90)">ℱ</text>
<text id="ya_P1" style="font-family:'Liberation Serif', 'DejaVu Serif', serif;" font-size="52.83" fill="#000" textLength="62.38" lengthAdjust="spacingAndGlyphs" transform="translate(38.18 540.69) rotate(-90)">(2)</text>
<text id="ya_U" style="font-family:'DejaVu Serif', 'DejaVu Sans', serif;" font-size="39.5" fill="#000" textLength="33.94" lengthAdjust="spacingAndGlyphs" transform="translate(88.43 548.85) rotate(-90)">𝕌</text>
<text id="ya_TH" style="font-family:'Liberation Serif', 'DejaVu Serif', serif;" font-size="34.53" fill="#000" textLength="27.62" lengthAdjust="spacingAndGlyphs" transform="translate(97.35 513.47) rotate(-90)">Θ</text>
<text id="ya_S" style="font-family:'Liberation Serif', 'DejaVu Serif', serif;" font-size="32.43" fill="#000" textLength="59.5" lengthAdjust="spacingAndGlyphs" transform="translate(107 481.3) rotate(-90)">TH</text>
<text id="ya_MI" style="font-family:'Liberation Serif', 'DejaVu Serif', serif;" font-size="55" fill="#000" textLength="47.83" lengthAdjust="spacingAndGlyphs" transform="translate(73.35 394.95) rotate(-90)">−</text>
<text id="ya_F2" style="font-family:'DejaVu Sans', 'DejaVu Serif', serif;" font-size="61.32" fill="#000" textLength="56.52" lengthAdjust="spacingAndGlyphs" transform="translate(71.77 332.74) rotate(-90)">ℱ</text>
<text id="ya_P2" style="font-family:'Liberation Serif', 'DejaVu Serif', serif;" font-size="50.57" fill="#000" textLength="60.43" lengthAdjust="spacingAndGlyphs" transform="translate(37.78 275.19) rotate(-90)">(2)</text>
<text id="ya_HA" style="font-family:'Liberation Serif', 'DejaVu Serif', serif;" font-size="32.71" fill="#000" textLength="103.7" lengthAdjust="spacingAndGlyphs" transform="translate(90 283.57) rotate(-90)">Haar</text>
<text id="yc_F1" style="font-family:'DejaVu Sans', 'DejaVu Serif', serif;" font-size="61.32" fill="#000" textLength="58.17" lengthAdjust="spacingAndGlyphs" transform="translate(985.77 1462.6) rotate(-90)">ℱ</text>
<text id="yc_P1" style="font-family:'Liberation Serif', 'DejaVu Serif', serif;" font-size="51.73" fill="#000" textLength="62.38" lengthAdjust="spacingAndGlyphs" transform="translate(952.4 1406.51) rotate(-90)">(2)</text>
<text id="yc_U" style="font-family:'DejaVu Serif', 'DejaVu Sans', serif;" font-size="39.5" fill="#000" textLength="32.88" lengthAdjust="spacingAndGlyphs" transform="translate(1002.43 1413.74) rotate(-90)">𝕌</text>
<text id="yc_TH" style="font-family:'Liberation Serif', 'DejaVu Serif', serif;" font-size="34.53" fill="#000" textLength="28.82" lengthAdjust="spacingAndGlyphs" transform="translate(1011.35 1379.33) rotate(-90)">Θ</text>
<text id="yc_S" style="font-family:'Liberation Serif', 'DejaVu Serif', serif;" font-size="32.43" fill="#000" textLength="58.99" lengthAdjust="spacingAndGlyphs" transform="translate(1021 1346.54) rotate(-90)">TH</text>
<text id="yc_MI" style="font-family:'Liberation Serif', 'DejaVu Serif', serif;" font-size="55" fill="#000" textLength="47.17" lengthAdjust="spacingAndGlyphs" transform="translate(987.35 1260.63) rotate(-90)">−</text>
<text id="yc_F2" style="font-family:'DejaVu Sans', 'DejaVu Serif', serif;" font-size="61.32" fill="#000" textLength="56.52" lengthAdjust="spacingAndGlyphs" transform="translate(985.77 1197.65) rotate(-90)">ℱ</text>
<text id="yc_P2" style="font-family:'Liberation Serif', 'DejaVu Serif', serif;" font-size="49.47" fill="#000" textLength="60.75" lengthAdjust="spacingAndGlyphs" transform="translate(952 1141.36) rotate(-90)">(2)</text>
<text id="yc_HA" style="font-family:'Liberation Serif', 'DejaVu Serif', serif;" font-size="32.71" fill="#000" textLength="104.71" lengthAdjust="spacingAndGlyphs" transform="translate(1004 1149.78) rotate(-90)">Haar</text>
<text id="yb_F1" style="font-family:'DejaVu Sans', 'DejaVu Serif', serif;" font-size="59.35" fill="#000" textLength="58.17" lengthAdjust="spacingAndGlyphs" transform="translate(75.41 1478.84) rotate(-90)">ℱ</text>
<text id="yb_P1" style="font-family:'Liberation Serif', 'DejaVu Serif', serif;" font-size="51.14" fill="#000" textLength="60.99" lengthAdjust="spacingAndGlyphs" transform="translate(42.05 1421.85) rotate(-90)">(2)</text>
<text id="yb_U" style="font-family:'DejaVu Serif', 'DejaVu Sans', serif;" font-size="41.52" fill="#000" textLength="32.83" lengthAdjust="spacingAndGlyphs" transform="translate(94.03 1431.28) rotate(-90)">𝕌</text>
<text id="yb_TH" style="font-family:'Liberation Serif', 'DejaVu Serif', serif;" font-size="34.47" fill="#000" textLength="28.78" lengthAdjust="spacingAndGlyphs" transform="translate(102.08 1395.95) rotate(-90)">Θ</text>
<text id="yb_S" style="font-family:'Liberation Serif', 'DejaVu Serif', serif;" font-size="34.14" fill="#000" textLength="94.38" lengthAdjust="spacingAndGlyphs" transform="translate(112 1363.45) rotate(-90)">MBL</text>
<text id="yb_MI" style="font-family:'Liberation Serif', 'DejaVu Serif', serif;" font-size="55" fill="#000" textLength="46.57" lengthAdjust="spacingAndGlyphs" transform="translate(78.15 1242.61) rotate(-90)">−</text>
<text id="yb_F2" style="font-family:'DejaVu Sans', 'DejaVu Serif', serif;" font-size="58.06" fill="#000" textLength="55.96" lengthAdjust="spacingAndGlyphs" transform="translate(75.22 1181.38) rotate(-90)">ℱ</text>
<text id="yb_P2" style="font-family:'Liberation Serif', 'DejaVu Serif', serif;" font-size="50.57" fill="#000" textLength="59.67" lengthAdjust="spacingAndGlyphs" transform="translate(43.41 1123.68) rotate(-90)">(2)</text>
<text id="yb_HA" style="font-family:'Liberation Serif', 'DejaVu Serif', serif;" font-size="43.46" fill="#000" textLength="107.75" lengthAdjust="spacingAndGlyphs" transform="translate(94 1131.88) rotate(-90)">Haar</text>
<text id="yd_F1" style="font-family:'DejaVu Sans', 'DejaVu Serif', serif;" font-size="59.35" fill="#000" textLength="57.07" lengthAdjust="spacingAndGlyphs" transform="translate(71.41 2284.54) rotate(-90)">ℱ</text>
<text id="yd_P1" style="font-family:'Liberation Serif', 'DejaVu Serif', serif;" font-size="52.27" fill="#000" textLength="60.97" lengthAdjust="spacingAndGlyphs" transform="translate(38.82 2227.58) rotate(-90)">(2)</text>
<text id="yd_U" style="font-family:'DejaVu Serif', 'DejaVu Sans', serif;" font-size="41.52" fill="#000" textLength="32.83" lengthAdjust="spacingAndGlyphs" transform="translate(90.03 2236.16) rotate(-90)">𝕌</text>
<text id="yd_TH" style="font-family:'Liberation Serif', 'DejaVu Serif', serif;" font-size="34.47" fill="#000" textLength="28.74" lengthAdjust="spacingAndGlyphs" transform="translate(98.08 2201.62) rotate(-90)">Θ</text>
<text id="yd_S" style="font-family:'Liberation Serif', 'DejaVu Serif', serif;" font-size="34.14" fill="#000" textLength="94.96" lengthAdjust="spacingAndGlyphs" transform="translate(108 2169.17) rotate(-90)">MBL</text>
<text id="yd_MI" style="font-family:'Liberation Serif', 'DejaVu Serif', serif;" font-size="55" fill="#000" textLength="47.22" lengthAdjust="spacingAndGlyphs" transform="translate(74.15 2048.89) rotate(-90)">−</text>
<text id="yd_F2" style="font-family:'DejaVu Sans', 'DejaVu Serif', serif;" font-size="58.06" fill="#000" textLength="57.1" lengthAdjust="spacingAndGlyphs" transform="translate(71.22 1987.4) rotate(-90)">ℱ</text>
<text id="yd_P2" style="font-family:'Liberation Serif', 'DejaVu Serif', serif;" font-size="50.59" fill="#000" textLength="59.67" lengthAdjust="spacingAndGlyphs" transform="translate(38.41 1929.42) rotate(-90)">(2)</text>
<text id="yd_HA" style="font-family:'Liberation Serif', 'DejaVu Serif', serif;" font-size="43.46" fill="#000" textLength="107.74" lengthAdjust="spacingAndGlyphs" transform="translate(90 1937.59) rotate(-90)">Haar</text>
<line x1="1647.4" y1="715.4" x2="1050" y2="907.4" stroke="#000" stroke-width="5.5" stroke-dasharray="5.5 6.2" fill="none"/>
<line x1="1694.3" y1="715.4" x2="1680.3" y2="910" stroke="#000" stroke-width="5.5" stroke-dasharray="5.5 6.2" fill="none"/>
<line x1="249" y1="1552.7" x2="1634.4" y2="2027.8" stroke="#000" stroke-width="5.5" stroke-dasharray="5.5 6.2" fill="none"/>
<line x1="890.6" y1="1551.5" x2="1677" y2="2027.8" stroke="#000" stroke-width="5.5" stroke-dasharray="5.5 6.2" fill="none"/>
<rect x="1063.2" y="1728.6" width="595.6" height="272.2" rx="46" ry="46" fill="#fff" stroke="#000" stroke-width="3.2"/>
<line x1="1106.2" y1="1863" x2="1161.2" y2="1863" stroke="#000000" stroke-width="7.6"/><path d="M1133.7 1851L1145.7 1863L1133.7 1875L1121.7 1863Z" fill="#000000"/><path d="M1133.7 1856.5L1135.9 1858.8L1131.5 1858.8Z M1133.7 1869.5L1136.1 1866.6L1131.3 1866.6Z" fill="#8a1cff"/>
<line x1="1106.2" y1="1949.6" x2="1161.2" y2="1949.6" stroke="#3b0b5e" stroke-width="7.6"/><path d="M1133.7 1937.6L1145.7 1949.6L1133.7 1961.6L1121.7 1949.6Z" fill="#3b0b5e"/><path d="M1133.7 1943.1L1135.9 1945.4L1131.5 1945.4Z M1133.7 1956.1L1136.1 1953.2L1131.3 1953.2Z" fill="#8a1cff"/>
<line x1="1401.1" y1="1775.6" x2="1456.1" y2="1775.6" stroke="#5b19a9" stroke-width="7.6"/><path d="M1428.6 1763.6L1440.6 1775.6L1428.6 1787.6L1416.6 1775.6Z" fill="#5b19a9"/><path d="M1428.6 1769.1L1430.8 1771.4L1426.4 1771.4Z M1428.6 1782.1L1431 1779.2L1426.2 1779.2Z" fill="#8a1cff"/>
<line x1="1401.1" y1="1862.4" x2="1456.1" y2="1862.4" stroke="#7a10f3" stroke-width="7.6"/><path d="M1428.6 1850.4L1440.6 1862.4L1428.6 1874.4L1416.6 1862.4Z" fill="#7a10f3"/><path d="M1428.6 1855.9L1430.8 1858.2L1426.4 1858.2Z M1428.6 1868.9L1431 1866L1426.2 1866Z" fill="#8a1cff"/>
<line x1="1401.1" y1="1949.4" x2="1456.1" y2="1949.4" stroke="#8812ff" stroke-width="7.6"/><path d="M1428.6 1937.4L1440.6 1949.4L1428.6 1961.4L1416.6 1949.4Z" fill="#8812ff"/><path d="M1428.6 1942.9L1430.8 1945.2L1426.4 1945.2Z M1428.6 1955.9L1431 1953L1426.2 1953Z" fill="#8a1cff"/>
<text id="lg_d_title" style="font-family:'Liberation Serif', 'DejaVu Serif', serif;" font-size="57.77" fill="#000" textLength="129.3" lengthAdjust="spacingAndGlyphs" x="1177.11" y="1797">MBL</text>
<text id="lg_d_5" style="font-family:'Liberation Serif', 'DejaVu Serif', serif;" font-size="57.75" fill="#000" textLength="140.9" lengthAdjust="spacingAndGlyphs" x="1188.45" y="1880.79"><tspan font-style="italic">n</tspan> = 5</text>
<text id="lg_d_6" style="font-family:'Liberation Serif', 'DejaVu Serif', serif;" font-size="57.75" fill="#000" textLength="139.85" lengthAdjust="spacingAndGlyphs" x="1188.47" y="1967.79"><tspan font-style="italic">n</tspan> = 6</text>
<text id="lg_d_7" style="font-family:'Liberation Serif', 'DejaVu Serif', serif;" font-size="59.27" fill="#000" textLength="140.88" lengthAdjust="spacingAndGlyphs" x="1484.5" y="1793.82"><tspan font-style="italic">n</tspan> = 7</text>
<text id="lg_d_8" style="font-family:'Liberation Serif', 'DejaVu Serif', serif;" font-size="57.75" fill="#000" textLength="141.1" lengthAdjust="spacingAndGlyphs" x="1484.49" y="1880.79"><tspan font-style="italic">n</tspan> = 8</text>
<text id="lg_d_9" style="font-family:'Liberation Serif', 'DejaVu Serif', serif;" font-size="57.75" fill="#000" textLength="141.1" lengthAdjust="spacingAndGlyphs" x="1484.49" y="1967.79"><tspan font-style="italic">n</tspan> = 9</text>
</svg>
</body></html>
